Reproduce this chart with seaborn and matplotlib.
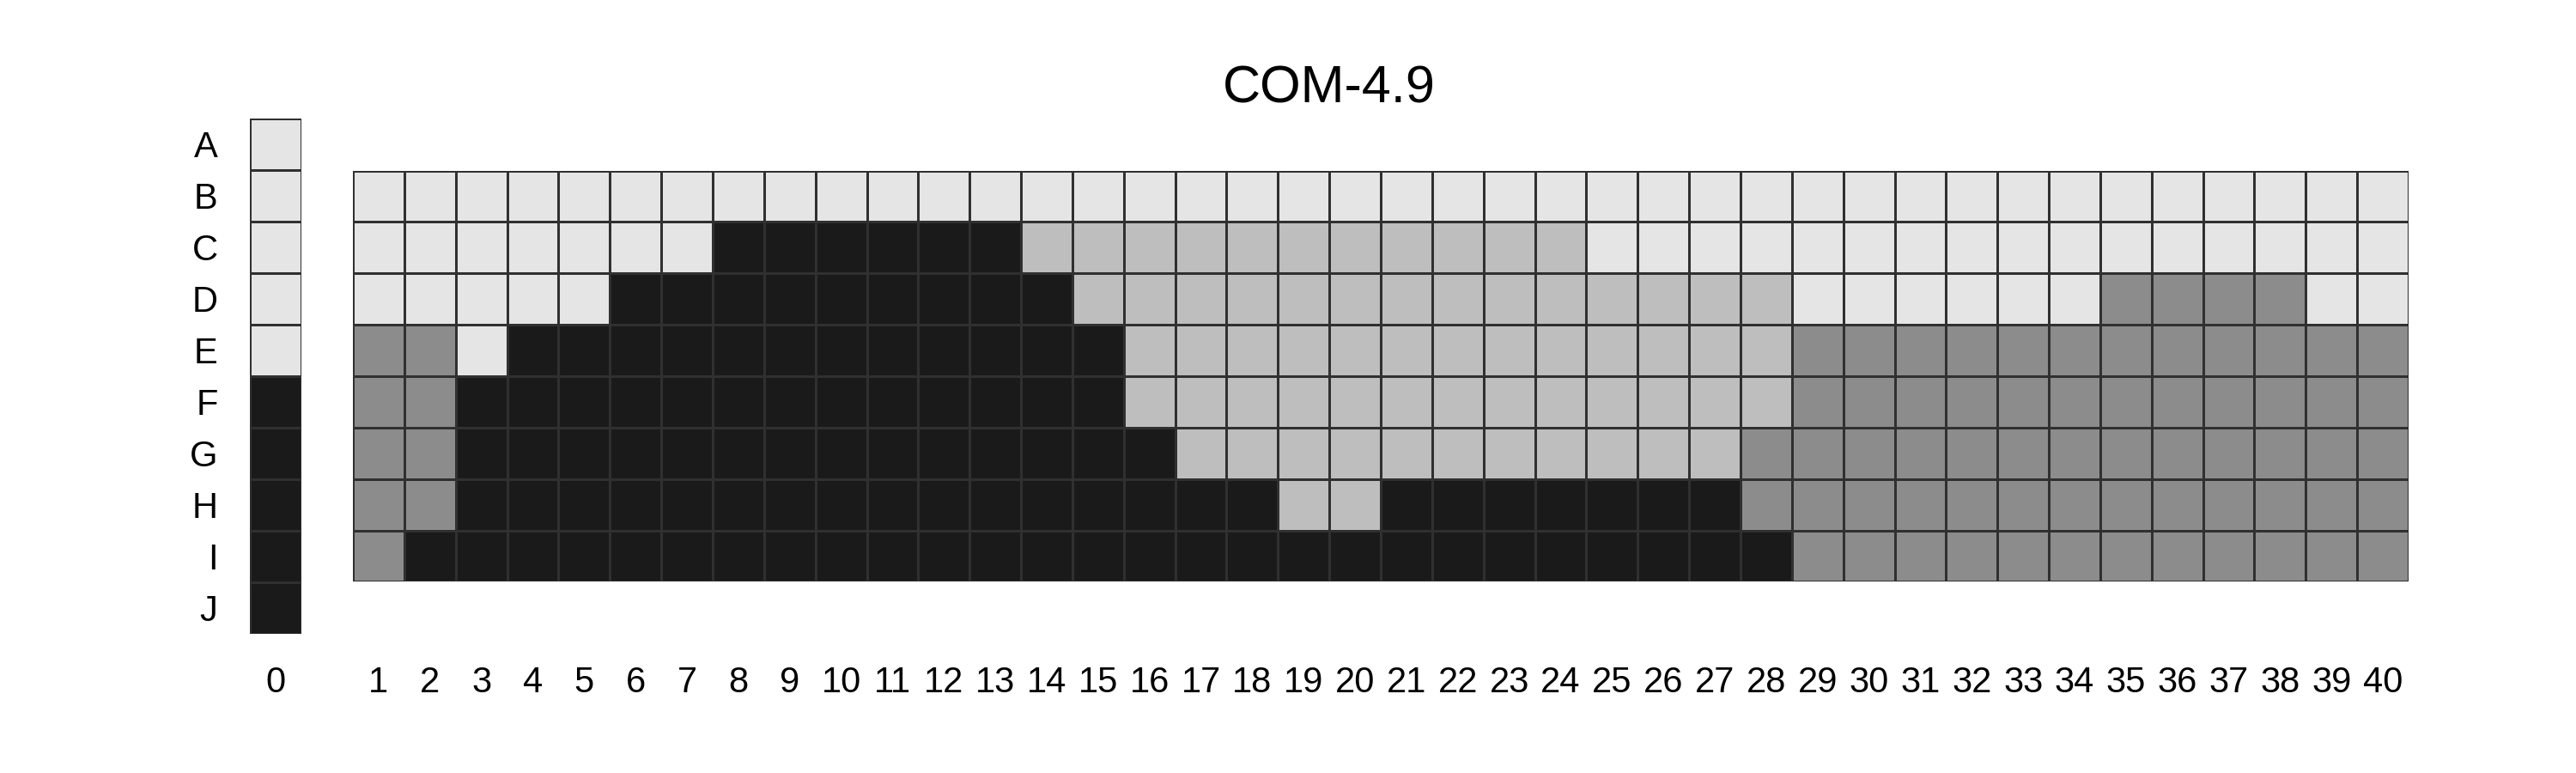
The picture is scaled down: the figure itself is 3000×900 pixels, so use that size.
import numpy as np
import pandas as pd
import seaborn as sns
import matplotlib.pyplot as plt
from matplotlib.colors import ListedColormap

# row letters and column numbers
rows = ['A', 'B', 'C', 'D', 'E', 'F', 'G', 'H', 'I', 'J']
cols = [str(i) for i in range(1, 41)]

# category codes: L=light, M=mid, D=dark gray, K=black
# column 0 covers rows A..J
col0 = "LLLLLKKKKK"

# columns 1..40 for rows B..I (groups of ten columns)
grid = {
    'B': "LLLLLLLLLL LLLLLLLLLL LLLLLLLLLL LLLLLLLLLL",
    'C': "LLLLLLLKKK KKKMMMMMMM MMMMLLLLLL LLLLLLLLLL",
    'D': "LLLLLKKKKK KKKKMMMMMM MMMMMMMMLL LLLLDDDDLL",
    'E': "DDLKKKKKKK KKKKKMMMMM MMMMMMMMDD DDDDDDDDDD",
    'F': "DDKKKKKKKK KKKKKMMMMM MMMMMMMMDD DDDDDDDDDD",
    'G': "DDKKKKKKKK KKKKKKMMMM MMMMMMMDDD DDDDDDDDDD",
    'H': "DDKKKKKKKK KKKKKKKKMM KKKKKKKDDD DDDDDDDDDD",
    'I': "DKKKKKKKKK KKKKKKKKKK KKKKKKKKDD DDDDDDDDDD",
}

codes = {'L': 0, 'M': 1, 'D': 2, 'K': 3}
palette = ['#e5e5e5', '#bebebe', '#8c8c8c', '#1a1a1a']

df0 = pd.DataFrame({'0': [codes[c] for c in col0]}, index=rows)
df_main = pd.DataFrame([[codes[c] for c in s.replace(' ', '')] for s in grid.values()],
                       index=list(grid.keys()), columns=cols)

sns.set_style("white")
plt.rcParams['font.family'] = ['Liberation Sans', 'DejaVu Sans']
plt.rcParams['text.color'] = 'black'
plt.rcParams['xtick.color'] = 'black'
plt.rcParams['ytick.color'] = 'black'

cmap = ListedColormap(palette)
kw = dict(cmap=cmap, vmin=-0.5, vmax=3.5, cbar=False, linewidths=0.8, linecolor='#303030')

fig = plt.figure(figsize=(30, 9), dpi=100)
ax0 = fig.add_axes([0.097, 0.18, 0.02, 0.6667])
ax1 = fig.add_axes([0.137, 0.2473, 0.798, 0.532])

sns.heatmap(df0, ax=ax0, xticklabels=True, yticklabels=True, **kw)
sns.heatmap(df_main, ax=ax1, xticklabels=True, yticklabels=False, **kw)

ax0.tick_params(axis='both', length=0, pad=27, labelsize=30)
ax1.tick_params(axis='x', length=0, pad=70, labelsize=30)
ax1.tick_params(axis='y', length=0)
for a in (ax0, ax1):
    plt.setp(a.get_xticklabels(), rotation=0)
    plt.setp(a.get_yticklabels(), rotation=0, va='center_baseline')
    a.set_xlabel('')
    a.set_ylabel('')

fig.text(0.516, 1 - 120 / 900, 'COM-4.9', fontsize=44, ha='center', va='baseline')

fig.savefig('out.png', dpi=100, facecolor='white')
